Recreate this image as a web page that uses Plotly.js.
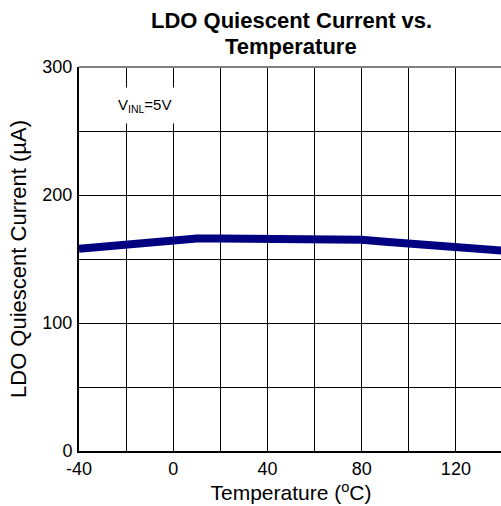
<!DOCTYPE html>
<html>
<head>
<meta charset="utf-8">
<script src="https://cdn.plot.ly/plotly-3.0.1.min.js"></script>
<style>
  html, body { margin: 0; padding: 0; overflow: hidden; background: #fff; }
  #chart { width: 503px; height: 506px; }
</style>
</head>
<body>
<div id="chart"></div>
<script>
// Quiescent current of the LDO across the temperature range, VINL = 5 V
const temperatureC = [-40, -30, -20, -10, 0, 10, 20, 30, 40, 50, 60, 65, 70, 80, 90, 100, 110, 120, 130, 140];
const quiescentUA  = [158, 159.5, 162, 164, 165.3, 166, 166, 166, 166, 166, 166, 166, 165, 165, 163.5, 162, 161, 159.5, 158, 156.5];

// Grid every 20 °C / 50 µA, labels on every other line
const xTickVals = [-40, -20, 0, 20, 40, 60, 80, 100, 120, 140];
const xTickText = ['-40', '', '0', '', '40', '', '80', '', '120', ''];
const yTickVals = [0, 50, 100, 150, 200, 250, 300];
const yTickText = ['0', '', '100', '', '200', '', '300'];

const titleLines = ['LDO Quiescent Current vs.', 'Temperature'];

const FONT = 'Liberation Sans, Arial, sans-serif';

const trace = {
  x: temperatureC,
  y: quiescentUA,
  type: 'scatter',
  mode: 'lines',
  line: { color: '#000080', width: 8 },
  hoverinfo: 'skip'
};

// Two-line bold heading above the plot
const titleAnnotations = titleLines.map((line, i) => ({
  x: 0.5, y: 1, xref: 'paper', yref: 'paper',
  xanchor: 'center', yanchor: 'middle',
  yshift: 47 - i * 26,
  text: '<b>' + line + '</b>',
  showarrow: false,
  font: { family: FONT, size: 22, color: '#000' }
}));

const layout = {
  width: 503,
  height: 506,
  margin: { l: 79, r: 0, t: 67, b: 55, pad: 0 },
  paper_bgcolor: '#fff',
  plot_bgcolor: '#fff',
  showlegend: false,
  font: { family: FONT, color: '#000' },
  xaxis: {
    range: [-40, 140],
    tickmode: 'array',
    tickvals: xTickVals,
    ticktext: xTickText,
    ticks: '',
    tickfont: { family: FONT, size: 18, color: '#000' },
    showgrid: true,
    gridcolor: '#000',
    gridwidth: 1,
    zeroline: false,
    showline: true,
    linecolor: '#000',
    linewidth: 2,
    title: {
      text: 'Temperature (<sup>o</sup>C)',
      font: { family: FONT, size: 21, color: '#000' },
      standoff: 2
    }
  },
  yaxis: {
    range: [0, 300],
    tickmode: 'array',
    tickvals: yTickVals,
    ticktext: yTickText,
    ticks: '',
    tickfont: { family: FONT, size: 18, color: '#000' },
    showgrid: true,
    gridcolor: '#000',
    gridwidth: 1,
    zeroline: false,
    showline: true,
    linecolor: '#000',
    linewidth: 2,
    ticklabelstandoff: 1,
    title: {
      text: 'LDO Quiescent Current (\u00b5A)',
      font: { family: FONT, size: 22, color: '#000' },
      standoff: 10
    }
  },
  shapes: [
    { type: 'line', xref: 'paper', yref: 'paper', x0: 0, x1: 1, y0: 1, y1: 1,
      line: { color: '#808080', width: 2 } }
  ],
  annotations: titleAnnotations.concat([
    {
      x: -12, y: 270, xref: 'x', yref: 'y',
      text: 'V<sub>INL</sub>=5V',
      showarrow: false,
      font: { family: FONT, size: 15, color: '#000' },
      bgcolor: '#fff',
      borderpad: 8
    }
  ])
};

Plotly.newPlot('chart', [trace], layout, { displayModeBar: false, staticPlot: true });
</script>
</body>
</html>
